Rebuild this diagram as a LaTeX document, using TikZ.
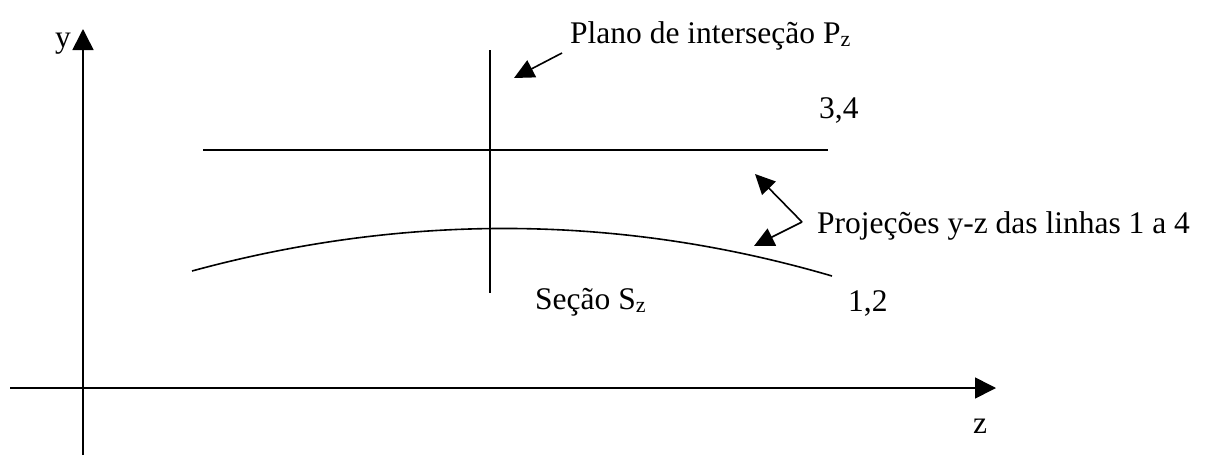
\documentclass[tikz,border=0pt]{standalone}
\usepackage{fontspec}
\setmainfont{Liberation Serif}
\usetikzlibrary{arrows.meta}
\begin{document}
\begin{tikzpicture}[x=1pt,y=-1pt,
  line/.style={line width=1.6pt},
  bigarrow/.style={line width=1.6pt,-{Triangle[length=21pt,width=21pt]}},
  smallarrow/.style={line width=1.6pt,-{Triangle[length=20pt,width=19pt]}},
  lbl/.style={inner sep=0pt,anchor=base west,font=\fontsize{31.5}{36}\selectfont}]
\useasboundingbox (0,0) rectangle (1206,458);
% axes
\coordinate (ybot) at (83,455);
\coordinate (ytop) at (83,29);
\coordinate (zleft) at (10,388);
\coordinate (zright) at (996,388);
\draw[bigarrow] (ybot) -- (ytop);
\draw[bigarrow] (zleft) -- (zright);
\node[lbl] (ylab) at (55,47) {y};
\node[lbl] (zlab) at (973,433) {z};
% plane line
\coordinate (ptop) at (490,50);
\coordinate (pbot) at (490,293);
\draw[line] (ptop) -- (pbot);
% line 3,4
\coordinate (l34a) at (203,150);
\coordinate (l34b) at (828,150);
\draw[line] (l34a) -- (l34b);
% curve 1,2
\coordinate (c1) at (192,271);
\coordinate (c2) at (832,276);
\draw[line] (c1) .. controls (405,213) and (620,214) .. (c2);
% labels
\node[lbl] (plano) at (570,43) {Plano de interseção P\textsubscript{z}};
\node[lbl] (l34) at (819,118) {3,4};
\node[lbl] (proj) at (817,233) {Projeções y-z das linhas 1 a 4};
\node[lbl] (secao) at (535,309) {Seção S\textsubscript{z}};
\node[lbl] (l12) at (848,311) {1,2};
% arrows
\coordinate (pzstart) at (562,53);
\coordinate (pztip) at (514,78);
\draw[smallarrow] (pzstart) -- (pztip);
\coordinate (corner) at (802,222);
\coordinate (uptip) at (755,174);
\coordinate (downtip) at (754,246);
\draw[smallarrow] (corner) -- (uptip);
\draw[smallarrow] (corner) -- (downtip);
\end{tikzpicture}
\end{document}
